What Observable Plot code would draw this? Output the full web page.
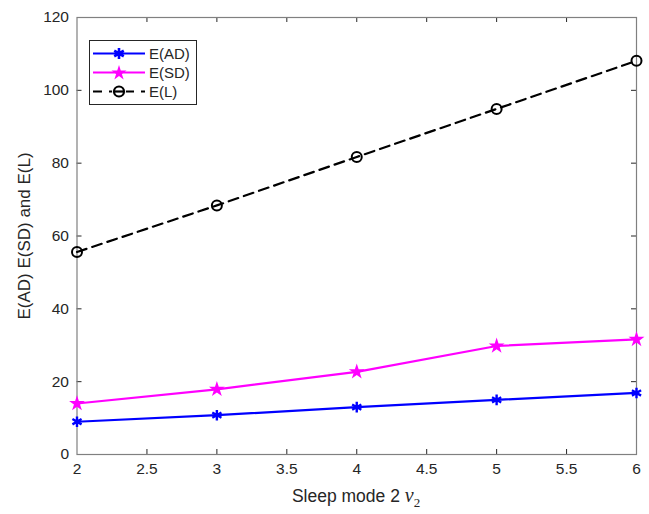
<!DOCTYPE html>
<html>
<head>
<meta charset="utf-8">
<script src="https://cdn.jsdelivr.net/npm/d3@7"></script>
<script src="https://cdn.jsdelivr.net/npm/@observablehq/plot@0.6"></script>
<style>
  body { margin: 0; background: #fff; }
  #wrap { position: relative; width: 649px; height: 514px; font-family: "Liberation Sans", Arial, sans-serif; }
  #legend { position: absolute; left: 89px; top: 40px; width: 106px; height: 63px; border: 1px solid #262626; background: #fff; }
  .row { position: absolute; left: 0; height: 19px; display: flex; align-items: center; font-size: 15px; color: #262626; }
  .row svg { display: block; }
  #xlabel { position: absolute; left: 76px; width: 560px; top: 484px; text-align: center; font-size: 17.5px; color: #262626; }
  #xlabel i { font-family: "Liberation Serif", serif; font-size: 20px; }
  #xlabel sub { font-family: "Liberation Serif", serif; font-size: 13px; }
</style>
</head>
<body>
<div id="wrap"></div>
<script>
const xs = [2, 3, 4, 5, 6];
const eAD = [9, 10.8, 13, 15, 16.9];
const eSD = [14, 17.9, 22.7, 29.8, 31.6];
const eL = [55.6, 68.4, 81.7, 94.9, 108.1];
const xTicks = [2, 2.5, 3, 3.5, 4, 4.5, 5, 5.5, 6];
const yTicks = [0, 20, 40, 60, 80, 100, 120];
const seriesNames = ["E(AD)", "E(SD)", "E(L)"];
const yLabel = "E(AD) E(SD) and E(L)";

const W = 649, H = 514;
const mL = 76.5, mR = 13, mT = 17, mB = 60;
const pw = W - mL - mR, ph = H - mT - mB;

const ad = xs.map((x, i) => ({x, y: eAD[i]}));
const sd = xs.map((x, i) => ({x, y: eSD[i]}));
const el = xs.map((x, i) => ({x, y: eL[i]}));

const tk = 5;
const axisColor = "#262626";

const chart = Plot.plot({
  width: W, height: H,
  marginLeft: mL, marginRight: mR, marginTop: mT, marginBottom: mB,
  style: {fontFamily: "Liberation Sans, Arial, sans-serif", fontSize: "15.5px", color: axisColor, background: "#fff"},
  x: {domain: [2, 6]},
  y: {domain: [0, 120]},
  marks: [
    Plot.axisX({ticks: xTicks, tickSize: 0, tickPadding: 8, tickFormat: d => String(d), label: null}),
    Plot.axisY({ticks: yTicks, tickSize: 0, tickPadding: 8, tickFormat: d => String(d), label: null}),
    Plot.text([yLabel], {
      frameAnchor: "left", dx: -52, rotate: -90, fontSize: 17, fill: axisColor,
      textAnchor: "middle", lineAnchor: "middle"
    }),
    // inward ticks (MATLAB style) on all four sides
    Plot.tickY(yTicks.slice(1, -1), {y: d => d, stroke: axisColor, insetRight: pw - tk}),
    Plot.tickY(yTicks.slice(1, -1), {y: d => d, stroke: axisColor, insetLeft: pw - tk}),
    Plot.tickX(xTicks.slice(1, -1), {x: d => d, stroke: axisColor, insetTop: ph - tk}),
    Plot.tickX(xTicks.slice(1, -1), {x: d => d, stroke: axisColor, insetBottom: ph - tk}),
    Plot.frame({stroke: "#808080", strokeWidth: 1.2}),
    Plot.line(el, {x: "x", y: "y", stroke: "#000", strokeWidth: 2.2, strokeDasharray: "10,6"}),
    Plot.dot(el, {x: "x", y: "y", r: 5, stroke: "#000", strokeWidth: 2, fill: "none"}),
    Plot.line(sd, {x: "x", y: "y", stroke: "#ff00ff", strokeWidth: 2.2}),
    Plot.dot(sd, {x: "x", y: "y", r: 5, symbol: "star", fill: "#ff00ff"}),
    Plot.line(ad, {x: "x", y: "y", stroke: "#0000ff", strokeWidth: 2.2}),
    Plot.dot(ad, {x: "x", y: "y", r: 5, symbol: "asterisk", stroke: "#0000ff", strokeWidth: 2.4})
  ]
});

const wrap = document.getElementById("wrap");
wrap.appendChild(chart);

// legend
const legend = document.createElement("div");
legend.id = "legend";
const sym = {
  "E(AD)": `<svg width="58" height="19"><line x1="3" y1="9.5" x2="55" y2="9.5" stroke="#0000ff" stroke-width="2.2"/><path transform="translate(29,9.5)" d="M0,-5.5V5.5M-4.8,-2.75L4.8,2.75M-4.8,2.75L4.8,-2.75" stroke="#0000ff" stroke-width="2.6"/></svg>`,
  "E(SD)": `<svg width="58" height="19"><line x1="3" y1="9.5" x2="55" y2="9.5" stroke="#ff00ff" stroke-width="2.2"/><path transform="translate(29,10)" d="${d3.symbol(d3.symbolStar, 70)()}" fill="#ff00ff"/></svg>`,
  "E(L)": `<svg width="58" height="19"><line x1="3" y1="9.5" x2="55" y2="9.5" stroke="#000" stroke-width="2.2" stroke-dasharray="9,7"/><circle cx="29" cy="9.5" r="7" fill="#fff"/><circle cx="29" cy="9.5" r="5" fill="none" stroke="#000" stroke-width="2.2"/><line x1="24" y1="9.5" x2="34" y2="9.5" stroke="#000" stroke-width="2.2"/></svg>`
};
seriesNames.forEach((name, i) => {
  const row = document.createElement("div");
  row.className = "row";
  row.style.top = (3 + i * 19) + "px";
  row.innerHTML = sym[name] + `<span style="margin-left:1px">${name}</span>`;
  legend.appendChild(row);
});
wrap.appendChild(legend);

const xl = document.createElement("div");
xl.id = "xlabel";
xl.innerHTML = `Sleep mode 2 <i>v</i><sub>2</sub>`;
wrap.appendChild(xl);
</script>
</body>
</html>
